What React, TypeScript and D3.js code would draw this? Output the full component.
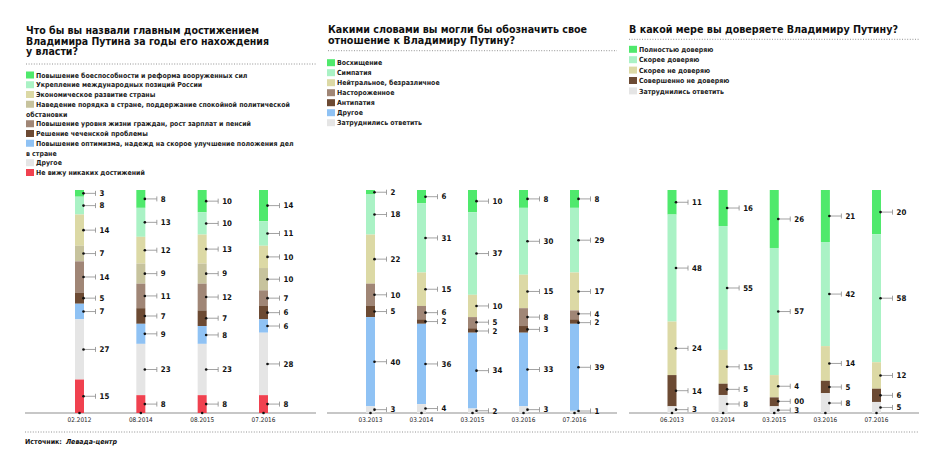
import React from 'react';
import * as d3 from 'd3';

// ---------- DATA ----------
const p1Title = ['Что бы вы назвали главным достижением', 'Владимира Путина за годы его нахождения', 'у власти?'];
const p1Categories = [
  ['Повышение боеспособности и реформа вооруженных сил'],
  ['Укрепление международных позиций России'],
  ['Экономическое развитие страны'],
  ['Наведение порядка в стране, поддержание спокойной политической', 'обстановки'],
  ['Повышение уровня жизни граждан, рост зарплат и пенсий'],
  ['Решение чеченской проблемы'],
  ['Повышение оптимизма, надежд на скорое улучшение положения дел', 'в стране'],
  ['Другое'],
  ['Не вижу никаких достижений'],
];
const p1Dates = ['02.2012', '08.2014', '08.2015', '07.2016'];
const p1Values = [
  [3, 8, 14, 7, 14, 5, 7, 27, 15],
  [8, 13, 12, 9, 11, 7, 9, 23, 8],
  [10, 10, 13, 9, 12, 7, 8, 23, 8],
  [14, 11, 10, 10, 7, 6, 6, 28, 8],
];
const p1Labels = p1Values.map(r => r.map(String));

const p2Title = ['Какими словами вы могли бы обозначить свое', 'отношение к Владимиру Путину?'];
const p2Categories = [
  ['Восхищение'], ['Симпатия'], ['Нейтральное, безразличное'], ['Настороженное'],
  ['Антипатия'], ['Другое'], ['Затруднились ответить'],
];
const p2Dates = ['03.2013', '03.2014', '03.2015', '03.2016', '07.2016'];
const p2Values = [
  [2, 18, 22, 10, 5, 40, 3],
  [6, 31, 15, 6, 2, 36, 4],
  [10, 37, 10, 5, 2, 34, 2],
  [8, 30, 15, 8, 3, 33, 3],
  [8, 29, 17, 4, 2, 39, 1],
];
const p2Labels = p2Values.map(r => r.map(String));

const p3Title = ['В какой мере вы доверяете Владимиру Путину?'];
const p3Categories = [
  ['Полностью доверяю'], ['Скорее доверяю'], ['Скорее не доверяю'],
  ['Совершенно не доверяю'], ['Затруднились ответить'],
];
const p3Dates = ['06.2013', '03.2014', '03.2015', '03.2016', '07.2016'];
const p3Values = [
  [11, 48, 24, 14, 3],
  [16, 55, 15, 5, 8],
  [26, 57, 10, 4, 3],
  [21, 42, 14, 5, 8],
  [20, 58, 12, 6, 5],
];
const p3Labels = [
  ['11', '48', '24', '14', '3'],
  ['16', '55', '15', '5', '8'],
  ['26', '57', '4', '00', '3'],
  ['21', '42', '14', '5', '8'],
  ['20', '58', '12', '6', '5'],
];

const sourceLabel = 'Источник:';
const sourceName = 'Левада-центр';

// ---------- STYLE ----------
const C = {
  green: '#4fe96c',
  lightGreen: '#aaf2c5',
  tan: '#dcd9a5',
  olive: '#c7c39d',
  mauve: '#a08676',
  brown: '#6c4a33',
  blue: '#8fc2f4',
  grey: '#e5e5e5',
  red: '#f0414f',
};
const p1Colors = [C.green, C.lightGreen, C.tan, C.olive, C.mauve, C.brown, C.blue, C.grey, C.red];
const p2Colors = [C.green, C.lightGreen, C.tan, C.mauve, C.brown, C.blue, C.grey];
const p3Colors = [C.green, C.lightGreen, C.tan, C.brown, C.grey];

const FONT = '"DejaVu Sans Condensed", "DejaVu Sans", sans-serif';
const BAR_TOP = 190;
const BAR_BOTTOM = 413;
const BAR_W = 9;
const MIN_GAP = 8.8;

function spread(ys: number[]): number[] {
  const out = ys.slice();
  for (let iter = 0; iter < 60; iter++) {
    let moved = false;
    for (let i = 1; i < out.length; i++) {
      const gap = out[i] - out[i - 1];
      if (gap < MIN_GAP - 0.01) {
        const d = (MIN_GAP - gap) / 2;
        out[i - 1] -= d;
        out[i] += d;
        moved = true;
      }
    }
    const lim = BAR_BOTTOM - 2;
    if (out.length && out[out.length - 1] > lim) {
      out[out.length - 1] = lim;
      moved = true;
    }
    if (!moved) break;
  }
  return out;
}

type PanelProps = {
  title: string[];
  titleX: number;
  titleY: number;
  titleWidths: number[];
  ruleY: number;
  ruleX1: number;
  legendX: number;
  legendY: number;
  legendPitch: number;
  categories: string[][];
  colors: string[];
  dates: string[];
  values: number[][];
  labels: string[][];
  xRange: [number, number];
  axisX: [number, number];
};

function Panel(p: PanelProps) {
  const x = d3.scalePoint<string>().domain(p.dates).range(p.xRange);
  let row = 0;
  const legendItems: React.ReactNode[] = [];
  p.categories.forEach((lines, i) => {
    const y = p.legendY + row * p.legendPitch;
    legendItems.push(
      <g key={i}>
        <rect x={p.legendX} y={y - 3.5} width={8} height={7} fill={p.colors[i]} />
        {lines.map((ln, j) => (
          <text key={j} x={j === 0 ? p.legendX + 10 : p.legendX} y={y + 2.6 + j * p.legendPitch}
            fontSize={6.95} fontWeight="bold" fill="#222" fontFamily={FONT}>{ln}</text>
        ))}
      </g>
    );
    row += lines.length;
  });

  return (
    <g>
      {p.title.map((t, i) => (
        <text key={i} x={p.titleX} y={p.titleY + i * 10.6} fontSize={10.6} fontWeight="bold"
          fontFamily={FONT} fill="#111" textLength={p.titleWidths[i]} lengthAdjust="spacingAndGlyphs">{t}</text>
      ))}
      <line x1={p.titleX} x2={p.ruleX1} y1={p.ruleY} y2={p.ruleY} stroke="#777" strokeWidth={0.8} strokeDasharray="1,1.6" />
      {legendItems}
      <line x1={p.axisX[0]} x2={p.axisX[1]} y1={BAR_BOTTOM} y2={BAR_BOTTOM} stroke="#b5b5b5" strokeWidth={1.3} />
      {p.values.map((vals, bi) => {
        const cx = x(p.dates[bi]) as number;
        const total = d3.sum(vals);
        const y = d3.scaleLinear().domain([0, total]).range([BAR_TOP, BAR_BOTTOM]);
        const cum = [0, ...d3.cumsum(vals)];
        const mids = vals.map((_, si) => (y(cum[si]) + y(cum[si + 1])) / 2);
        const ly = spread(mids);
        return (
          <g key={bi}>
            {vals.map((v, si) => (
              <rect key={si} x={cx - BAR_W / 2} y={y(cum[si])} width={BAR_W}
                height={Math.max(0, y(cum[si + 1]) - y(cum[si]))} fill={p.colors[si]} />
            ))}
            {vals.map((v, si) => {
              const my = ly[si];
              return (
                <g key={'l' + si}>
                  <line x1={cx + 4} x2={cx + 16} y1={my} y2={my} stroke="#8a8a8a" strokeWidth={0.8} />
                  <line x1={cx + 16} x2={cx + 16} y1={my - 2.5} y2={my + 2.5} stroke="#8a8a8a" strokeWidth={0.8} />
                  <circle cx={cx + 4} cy={my} r={1.3} fill="#111" />
                  <text x={cx + 20} y={my + 2.8} fontSize={7.8} fontWeight="bold" fontFamily={FONT} fill="#111">
                    {p.labels[bi][si]}
                  </text>
                </g>
              );
            })}
            <circle cx={cx} cy={BAR_BOTTOM} r={1.3} fill="#111" />
            <text x={cx} y={422} textAnchor="middle" fontSize={6.4} fontFamily={FONT} fill="#222">{p.dates[bi]}</text>
          </g>
        );
      })}
    </g>
  );
}

export default function App() {
  return (
    <svg width={945} height={470} style={{ position: 'absolute', left: 0, top: 0, background: '#fff' }}>
      <rect width={945} height={470} fill="#fff" />
      <Panel title={p1Title} titleX={26} titleY={34} titleWidths={[233, 243, 52]} ruleY={64} ruleX1={317}
        legendX={26} legendY={75} legendPitch={9.75} categories={p1Categories} colors={p1Colors}
        dates={p1Dates} values={p1Values} labels={p1Labels} xRange={[79.5, 263.5]} axisX={[25, 316]} />
      <Panel title={p2Title} titleX={328} titleY={33.3} titleWidths={[259, 187]} ruleY={50.7} ruleX1={617}
        legendX={327} legendY={62.7} legendPitch={10} categories={p2Categories} colors={p2Colors}
        dates={p2Dates} values={p2Values} labels={p2Labels} xRange={[370.5, 574.5]} axisX={[327, 617]} />
      <Panel title={p3Title} titleX={629} titleY={33.3} titleWidths={[269]} ruleY={39.3} ruleX1={919}
        legendX={629} legendY={49.3} legendPitch={10.4} categories={p3Categories} colors={p3Colors}
        dates={p3Dates} values={p3Values} labels={p3Labels} xRange={[672, 876.5]} axisX={[629, 919]} />
      <line x1={25} x2={919} y1={432} y2={432} stroke="#777" strokeWidth={0.8} strokeDasharray="1,1.6" />
      <text x={25} y={444} fontSize={7} fontWeight="bold" fontFamily={FONT} fill="#111">
        {sourceLabel}
        <tspan dx={4} fontStyle="italic">{sourceName}</tspan>
      </text>
    </svg>
  );
}
